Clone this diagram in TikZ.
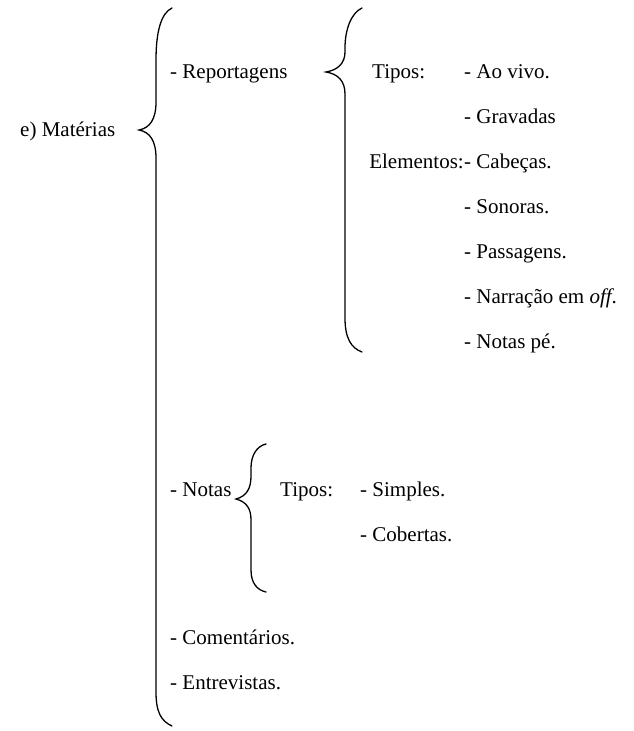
\documentclass[tikz,border=0pt]{standalone}
\usepackage{fontspec}
\setmainfont{Liberation Serif}
\begin{document}
\begin{tikzpicture}[x=1pt,y=-1pt,
  txt/.style={anchor=base west,inner sep=0pt,font=\fontsize{21}{24}\selectfont},
  brace/.style={line width=1.3pt,line cap=round}]
\useasboundingbox[fill=white] (0,0) rectangle (633,731);
% big brace
\draw[brace] (172,8) .. controls (161,13) and (156,32) .. (156,60) -- (156,102)
  .. controls (156,119) and (150,128) .. (139,130)
  .. controls (150,132) and (156,141) .. (156,158) -- (156,692)
  .. controls (156,712) and (161,721) .. (172,726);
% reportagens brace
\draw[brace] (362,8) .. controls (351,13) and (345,30) .. (345,48) -- (345,52)
  .. controls (345,63) and (338,70) .. (326,72)
  .. controls (338,74) and (345,81) .. (345,94) -- (345,318)
  .. controls (345,338) and (351,348) .. (362,352);
% notas brace
\draw[brace] (266,444) .. controls (257,446) and (251,455) .. (251,468) -- (251,476)
  .. controls (251,488) and (247,496) .. (236,499)
  .. controls (247,502) and (251,509) .. (251,520) -- (251,570)
  .. controls (251,583) and (257,590) .. (266,592);

\node[txt] (mat) at (20,136) {e) Matérias};
\node[txt] (rep) at (170,78) {- Reportagens};
\node[txt] (tip1) at (372,78) {Tipos:};
\node[txt] (ao) at (464,78) {- Ao vivo.};
\node[txt] (grav) at (464,123) {- Gravadas};
\node[txt,anchor=base east] (ele) at (464,168) {Elementos:};
\node[txt] (cab) at (ele.base east) {- Cabeças.};
\node[txt] (son) at (464,213) {- Sonoras.};
\node[txt] (pas) at (464,258) {- Passagens.};
\node[txt] (nar) at (464,303) {- Narração em \textit{off}.};
\node[txt] (pe) at (464,348) {- Notas pé.};
\node[txt] (not) at (170,496) {- Notas};
\node[txt] (tip2) at (280,496) {Tipos:};
\node[txt] (sim) at (360,496) {- Simples.};
\node[txt] (cob) at (360,541) {- Cobertas.};
\node[txt] (com) at (170,644) {- Comentários.};
\node[txt] (ent) at (170,689) {- Entrevistas.};
\end{tikzpicture}
\end{document}
